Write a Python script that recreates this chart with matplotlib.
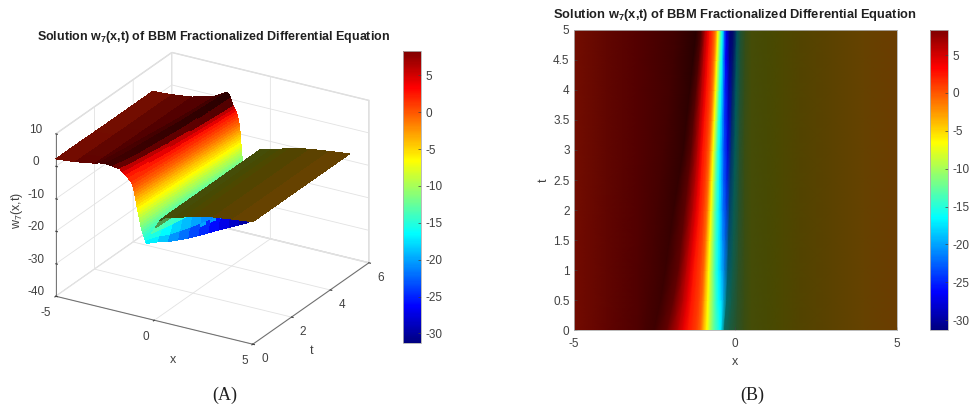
import matplotlib
matplotlib.use("Agg")
import matplotlib.pyplot as plt
import numpy as np
from matplotlib.cm import ScalarMappable
from matplotlib.colors import LinearSegmentedColormap, Normalize

plt.rcParams["font.family"] = ["Liberation Sans", "DejaVu Sans"]
plt.rcParams["mathtext.fontset"] = "custom"
plt.rcParams["mathtext.rm"] = "Liberation Sans"
plt.rcParams["mathtext.bf"] = "Liberation Sans:bold"
plt.rcParams["mathtext.default"] = "regular"
plt.rcParams["axes.unicode_minus"] = False

# values, one row per t
t_rows = [0, 0.5, 1, 1.5, 2, 2.5, 3, 3.5, 4, 4.5, 5]

x_left = [-5, -4, -3]
w_left = [
    [2.3, 2.9, 3.9],
    [2.3, 2.85, 3.8],
    [2.3, 2.8, 3.7],
    [2.3, 2.8, 3.65],
    [2.25, 2.75, 3.6],
    [2.2, 2.7, 3.55],
    [2.2, 2.7, 3.5],
    [2.2, 2.7, 3.5],
    [2.2, 2.7, 3.45],
    [2.2, 2.65, 3.4],
    [2.2, 2.65, 3.4],
]
x_crest = [
    [-2.8, -2.5, -2.1],
    [-2.7, -2.3, -1.9],
    [-2.6, -2.15, -1.75],
    [-2.5, -2.03, -1.65],
    [-2.4, -1.9, -1.55],
    [-2.3, -1.75, -1.45],
    [-2.2, -1.6, -1.35],
    [-2.1, -1.5, -1.28],
    [-2.0, -1.4, -1.2],
    [-1.9, -1.3, -1.12],
    [-1.8, -1.2, -1.05],
]
w_crest = [
    [4.3, 4.5, 4.3],
    [4.4, 4.8, 4.5],
    [4.4, 5.1, 4.6],
    [4.5, 5.4, 4.75],
    [4.6, 5.7, 4.9],
    [4.65, 6.05, 5.05],
    [4.7, 6.4, 5.2],
    [4.85, 6.7, 5.5],
    [5.0, 7.0, 5.8],
    [5.25, 7.3, 6.1],
    [5.5, 7.6, 6.4],
]
# where each row crosses these levels on the steep front
front_levels = [4, 3.25, 2.5, 1.75, 1, 0.25, -0.5, -1.25, -2, -2.75, -3.5, -4.25, -5, -5.75,
                -6.5, -7.25, -8, -8.75, -9.5, -10.25, -11, -11.75, -12.5, -13.25, -14, -14.75, -15.5]
x_front = [
    [-1.75, -1.6, -1.45, -1.32, -1.2, -1.13, -1.08, -1.05, -1.02, -0.995, -0.97, -0.945, -0.92, -0.895,
     -0.87, -0.845, -0.82, -0.795, -0.77, -0.745, -0.72, -0.69, -0.66, -0.625, -0.59, -0.545, -0.5],
    [-1.6, -1.47, -1.35, -1.24, -1.13, -1.08, -1.03, -1.0, -0.97, -0.95, -0.93, -0.905, -0.88, -0.86,
     -0.84, -0.815, -0.79, -0.77, -0.75, -0.725, -0.7, -0.675, -0.65, -0.625, -0.6, -0.575, -0.55],
    [-1.5, -1.38, -1.27, -1.17, -1.08, -1.03, -0.98, -0.955, -0.93, -0.91, -0.89, -0.87, -0.85, -0.83,
     -0.81, -0.79, -0.77, -0.75, -0.73, -0.71, -0.69, -0.67, -0.65, -0.63, -0.61, -0.585, -0.56],
    [-1.4, -1.29, -1.18, -1.1, -1.02, -0.98, -0.935, -0.91, -0.885, -0.868, -0.85, -0.83, -0.81, -0.793,
     -0.775, -0.758, -0.74, -0.722, -0.705, -0.688, -0.67, -0.652, -0.635, -0.615, -0.595, -0.572, -0.55],
    [-1.3, -1.2, -1.1, -1.03, -0.97, -0.93, -0.89, -0.865, -0.84, -0.825, -0.81, -0.79, -0.77, -0.755,
     -0.74, -0.725, -0.71, -0.695, -0.68, -0.665, -0.65, -0.635, -0.62, -0.6, -0.58, -0.56, -0.54],
    [-1.22, -1.13, -1.05, -0.98, -0.92, -0.882, -0.845, -0.822, -0.8, -0.785, -0.77, -0.755, -0.74, -0.725,
     -0.71, -0.695, -0.68, -0.665, -0.65, -0.635, -0.62, -0.608, -0.595, -0.578, -0.56, -0.542, -0.525],
    [-1.15, -1.07, -1.0, -0.93, -0.87, -0.835, -0.8, -0.78, -0.76, -0.745, -0.73, -0.715, -0.7, -0.685,
     -0.67, -0.66, -0.65, -0.635, -0.62, -0.605, -0.59, -0.58, -0.57, -0.555, -0.54, -0.525, -0.51],
    [-1.09, -1.01, -0.94, -0.875, -0.82, -0.788, -0.755, -0.735, -0.715, -0.7, -0.685, -0.672, -0.66, -0.645,
     -0.63, -0.62, -0.61, -0.598, -0.585, -0.57, -0.555, -0.545, -0.535, -0.522, -0.51, -0.495, -0.48],
    [-1.03, -0.95, -0.88, -0.82, -0.77, -0.74, -0.71, -0.69, -0.67, -0.655, -0.64, -0.63, -0.62, -0.605,
     -0.59, -0.58, -0.57, -0.56, -0.55, -0.535, -0.52, -0.51, -0.5, -0.49, -0.48, -0.465, -0.45],
    [-0.975, -0.9, -0.83, -0.775, -0.73, -0.7, -0.67, -0.65, -0.63, -0.615, -0.6, -0.59, -0.58, -0.568,
     -0.555, -0.545, -0.535, -0.525, -0.515, -0.502, -0.49, -0.48, -0.47, -0.46, -0.45, -0.438, -0.425],
    [-0.92, -0.85, -0.78, -0.73, -0.69, -0.66, -0.63, -0.61, -0.59, -0.575, -0.56, -0.55, -0.54, -0.53,
     -0.52, -0.51, -0.5, -0.49, -0.48, -0.47, -0.46, -0.45, -0.44, -0.43, -0.42, -0.41, -0.4],
]
# trough: three points down, the minimum, four points back up
x_trough = [
    [-0.47, -0.45, -0.43, -0.41, -0.33, -0.15, 0.05, 0.28],
    [-0.5, -0.46, -0.42, -0.36, -0.26, -0.1, 0.08, 0.3],
    [-0.51, -0.46, -0.41, -0.33, -0.22, -0.07, 0.1, 0.3],
    [-0.5, -0.445, -0.39, -0.3, -0.195, -0.055, 0.11, 0.3],
    [-0.49, -0.43, -0.37, -0.27, -0.17, -0.04, 0.12, 0.3],
    [-0.475, -0.415, -0.355, -0.25, -0.145, -0.02, 0.13, 0.3],
    [-0.46, -0.4, -0.34, -0.23, -0.12, 0.0, 0.14, 0.3],
    [-0.435, -0.38, -0.325, -0.21, -0.1, 0.015, 0.15, 0.3],
    [-0.41, -0.36, -0.31, -0.19, -0.08, 0.03, 0.16, 0.3],
    [-0.39, -0.345, -0.29, -0.17, -0.065, 0.045, 0.17, 0.31],
    [-0.37, -0.33, -0.27, -0.15, -0.05, 0.06, 0.18, 0.32],
]
w_trough = [
    [-16, -16.5, -16.8, -17, -15.5, -13.5, -11.5, -9],
    [-16.5, -17.3, -18, -18.5, -16.5, -14, -11.5, -9],
    [-17, -18, -19.5, -20.5, -18, -14.5, -11.5, -9],
    [-17.2, -18.7, -20.7, -22, -19, -15, -11.8, -9],
    [-17.5, -19.5, -22, -23.5, -20, -15.5, -12, -9],
    [-17.8, -20, -22.8, -24.8, -20.8, -15.8, -12, -9],
    [-18, -20.5, -23.5, -26, -21.5, -16, -12, -9],
    [-18, -21, -24.2, -27.2, -22.2, -16.2, -12.2, -9.2],
    [-18, -21.5, -25, -28.5, -23, -16.5, -12.5, -9.5],
    [-18.2, -22.2, -26.2, -29.8, -24, -17, -12.5, -9.5],
    [-18.5, -23, -27.5, -31, -25, -17.5, -12.5, -9.5],
]
x_right = [0.5, 1, 1.5, 2, 3, 4, 5]
w_right = [-7.5, -7, -6, -5, -3.8, -3, -2.3]

# brightness of the lit surface at each knot across x
light_left = [0.45, 0.38, 0.33, 0.31, 0.28, 0.45]
light_front = [0.8, 0.9] + [1] * 25
light_trough_top = [1, 1, 1, 0.85, 0.42, 0.36, 0.32, 0.3]
light_trough_under = [1, 1, 1, 1, 1, 1, 0.6, 0.32]
light_right = [0.3, 0.29, 0.3, 0.32, 0.36, 0.4, 0.42]

jet_stops = [0, 0.125, 0.375, 0.625, 0.875, 1]
jet_colors = [(0, 0, 0.5), (0, 0, 1), (0, 1, 1), (1, 1, 0), (1, 0, 0), (0.5, 0, 0)]
w_min, w_max = -31.3, 8.3
cbar_ticks = [5, 0, -5, -10, -15, -20, -25, -30]
text_gray = "#404040"
title = r"Solution w$_{\mathbf{7}}$(x,t) of BBM Fractionalized Differential Equation"


def build_surface():
    xs, ws = [], []
    for i in range(len(t_rows)):
        xs.append(x_left + x_crest[i] + x_front[i] + x_trough[i] + x_right)
        ws.append(w_left[i] + w_crest[i] + front_levels + w_trough[i] + w_right)
    X = np.array(xs)
    W = np.array(ws)
    T = np.repeat(np.array(t_rows, dtype=float)[:, None], X.shape[1], axis=1)
    return X, T, W


def lit_colors(W, norm, cmap, light):
    rgba = cmap(norm(W))
    rgba[..., :3] *= np.array(light)[None, :, None]
    return rgba


def add_colorbar(fig, mappable, rect):
    cax = fig.add_axes(rect)
    cb = fig.colorbar(mappable, cax=cax)
    cb.set_ticks(cbar_ticks)
    cb.ax.tick_params(labelsize=8.5, colors=text_gray, length=2, width=0.5, direction="in", pad=3)
    cb.outline.set_edgecolor("#b0b0b0")
    cb.outline.set_linewidth(0.6)


def main():
    X, T, W = build_surface()
    norm = Normalize(w_min, w_max)
    cmap = LinearSegmentedColormap.from_list("matlab_jet", list(zip(jet_stops, jet_colors)), N=256)
    sm = ScalarMappable(norm=norm, cmap=cmap)
    rgba_top = lit_colors(W, norm, cmap, light_left + light_front + light_trough_top + light_right)
    rgba_3d = lit_colors(W, norm, cmap, light_left + light_front + light_trough_under + light_right)

    fig = plt.figure(figsize=(9.72, 4.11), dpi=100)

    # panel A
    ax = fig.add_axes([-0.0118, 0.045, 0.45, 0.92], projection="3d", proj_type="ortho")
    ax.plot_surface(X, T, W, facecolors=rgba_3d, rstride=1, cstride=1, shade=False,
                    linewidth=0, antialiased=False)
    ax.view_init(elev=24.4, azim=-59.5)
    ax.set_box_aspect((1, 1, 0.78), zoom=0.948)
    ax.set_xlim(-5, 5)
    ax.set_ylim(0, 6)
    ax.set_zlim(-40, 10)
    ax.set_xticks([-5, 0, 5])
    ax.set_yticks([0, 2, 4, 6])
    ax.set_zticks([-40, -30, -20, -10, 0, 10])
    ax.zaxis._axinfo["juggled"] = (1, 2, 0)
    for axis in (ax.xaxis, ax.yaxis, ax.zaxis):
        axis.set_pane_color((1, 1, 1, 1))
        axis.pane.set_edgecolor("#d8d8d8")
        axis.line.set_color("#606060")
        axis.line.set_linewidth(0.6)
        axis._axinfo["grid"].update(color="#e2e2e2", linewidth=0.6)
        axis._axinfo["tick"].update(inward_factor=0.1, outward_factor=0.0)
    ax.tick_params(labelsize=8.5, colors=text_gray, pad=-2)
    ax.tick_params(axis="z", pad=1)
    # nudge the labels the way the reference sits them against the box edges
    for label in ax.get_xticklabels():
        label.set_ha("right")
    for label in ax.get_yticklabels():
        label.set_ha("left")
    for label in ax.get_zticklabels():
        label.set_va("bottom")
    fig.text(173 / 972, 1 - 360 / 411, "x", fontsize=9, color=text_gray, ha="center", va="center")
    fig.text(312 / 972, 1 - 351 / 411, "t", fontsize=9, color=text_gray, ha="center", va="center")
    fig.text(17 / 972, 1 - 210 / 411, "w$_7$(x,t)", fontsize=9, color=text_gray, rotation=90,
             ha="center", va="center")
    fig.text(213.5 / 972, 1 - 37 / 411, title, fontsize=9.0, fontweight="bold",
             ha="center", va="center", color="#202020")
    add_colorbar(fig, sm, [403 / 972, 1 - 343 / 411, 18 / 972, 292 / 411])

    # panel B
    ax2 = fig.add_axes([573.7 / 972, 1 - 330 / 411, 323 / 972, 300 / 411])
    ax2.pcolormesh(X, T, rgba_top, shading="gouraud", rasterized=True)
    ax2.set_xlim(-5, 5)
    ax2.set_ylim(0, 5)
    ax2.set_xticks([-5, 0, 5])
    ax2.set_yticks(np.arange(0, 5.5, 0.5))
    ax2.set_yticklabels(["0", "0.5", "1", "1.5", "2", "2.5", "3", "3.5", "4", "4.5", "5"])
    ax2.tick_params(labelsize=8.5, colors=text_gray, length=2, width=0.5, direction="in", pad=3)
    ax2.tick_params(axis="x", pad=6)
    ax2.set_xlabel("x", fontsize=9, color=text_gray, labelpad=4)
    ax2.set_ylabel("t", fontsize=9, color=text_gray, labelpad=2)
    for spine in ax2.spines.values():
        spine.set_edgecolor("#b0b0b0")
        spine.set_linewidth(0.6)
    fig.text(735 / 972, 1 - 15 / 411, title, fontsize=9.3, fontweight="bold",
             ha="center", va="center", color="#202020")
    add_colorbar(fig, sm, [930 / 972, 1 - 330 / 411, 18 / 972, 300 / 411])

    fig.text(225 / 972, 1 - 395 / 411, "(A)", family="Liberation Serif", fontsize=13,
             ha="center", va="center", color="#202020")
    fig.text(752 / 972, 1 - 395 / 411, "(B)", family="Liberation Serif", fontsize=13,
             ha="center", va="center", color="#202020")

    fig.savefig("out.png", dpi=100)


if __name__ == "__main__":
    main()
